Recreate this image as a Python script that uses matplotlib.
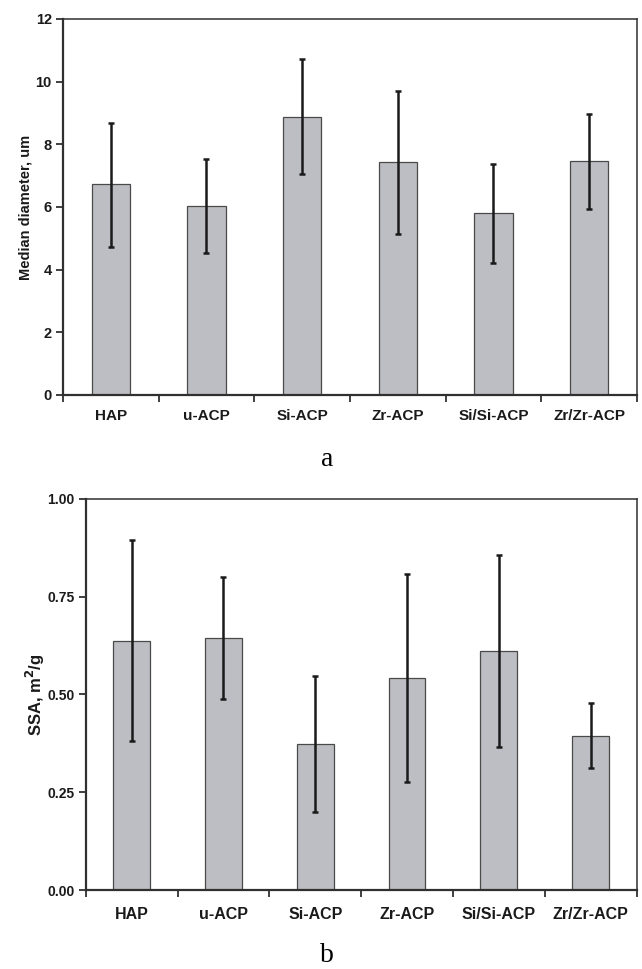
import numpy as np
import matplotlib
matplotlib.use('Agg')
import matplotlib.pyplot as plt
from matplotlib.ticker import FixedLocator

categories = ['HAP', 'u-ACP', 'Si-ACP', 'Zr-ACP', 'Si/Si-ACP', 'Zr/Zr-ACP']

# panel a: median diameter (um)
diam = [6.73, 6.03, 8.86, 7.43, 5.80, 7.47]
diam_lo = [4.73, 4.52, 7.04, 5.13, 4.22, 5.95]
diam_hi = [8.69, 7.54, 10.71, 9.71, 7.37, 8.97]

# panel b: SSA (m2/g)
ssa = [0.637, 0.645, 0.373, 0.543, 0.611, 0.394]
ssa_lo = [0.381, 0.489, 0.199, 0.277, 0.366, 0.312]
ssa_hi = [0.894, 0.799, 0.546, 0.807, 0.857, 0.479]

plt.rcParams['font.family'] = ['Liberation Sans', 'DejaVu Sans']
plt.rcParams['font.weight'] = 'bold'

BAR = '#bdbec3'
EDGE = '#4a4a4a'
SPINE = '#303030'


def draw_panel(ax, vals, lo, hi, ylim, yticks, ylabel, ytick_fmt, xfs, yfs, lfs, xpad):
    x = np.arange(len(categories))
    vals = np.array(vals)
    yerr = [vals - np.array(lo), np.array(hi) - vals]
    ax.bar(x, vals, width=0.4, color=BAR, edgecolor=EDGE, linewidth=0.9, zorder=2)
    ax.errorbar(x, vals, yerr=yerr, fmt='none', ecolor='#1a1a1a',
                elinewidth=1.8, capsize=2.2, capthick=1.8, zorder=3)
    ax.set_xlim(-0.5, len(categories) - 0.5)
    ax.set_ylim(*ylim)
    ax.set_yticks(yticks)
    ax.set_yticklabels([ytick_fmt(v) for v in yticks], fontsize=yfs, fontweight='bold')
    ax.set_xticks(x)
    ax.set_xticklabels(categories, fontsize=xfs, fontweight='bold')
    ax.xaxis.set_minor_locator(FixedLocator(np.arange(-0.5, len(categories), 1.0)))
    ax.tick_params(axis='x', which='major', length=0, pad=xpad, colors='#1a1a1a')
    ax.tick_params(axis='x', which='minor', length=5, width=1.3, direction='out', color=SPINE)
    ax.tick_params(axis='y', length=5, width=1.3, direction='out', color=SPINE,
                   labelcolor='#1a1a1a', pad=3)
    for s in ax.spines.values():
        s.set_color(SPINE)
        s.set_linewidth(1.1)
    ax.spines['left'].set_linewidth(1.6)
    ax.spines['bottom'].set_linewidth(1.6)
    ax.set_ylabel(ylabel, fontsize=lfs, fontweight='bold', color='#1a1a1a')


fig = plt.figure(figsize=(6.42, 9.69), dpi=100)

ax1 = fig.add_axes([0.0981, 0.5924, 0.894, 0.388])
draw_panel(ax1, diam, diam_lo, diam_hi, (0, 12), [0, 2, 4, 6, 8, 10, 12],
           'Median diameter, um', lambda v: f'{v:d}', 11, 10.5, 10.5, 10)
ax1.yaxis.labelpad = 2

ax2 = fig.add_axes([0.1335, 0.0815, 0.858, 0.4038])
draw_panel(ax2, ssa, ssa_lo, ssa_hi, (0, 1.0), [0, 0.25, 0.5, 0.75, 1.0],
           'SSA, m$^\\mathbf{2}$/g', lambda v: f'{v:.2f}', 11.5, 10, 12, 12)
ax2.yaxis.labelpad = 0

fig.text(0.51, 1 - 466 / 969, 'a', ha='center', va='baseline', fontsize=20,
         family='Liberation Serif', fontweight='normal')
fig.text(0.51, 1 - 962 / 969, 'b', ha='center', va='baseline', fontsize=20,
         family='Liberation Serif', fontweight='normal')

fig.savefig('out.png', dpi=100)
